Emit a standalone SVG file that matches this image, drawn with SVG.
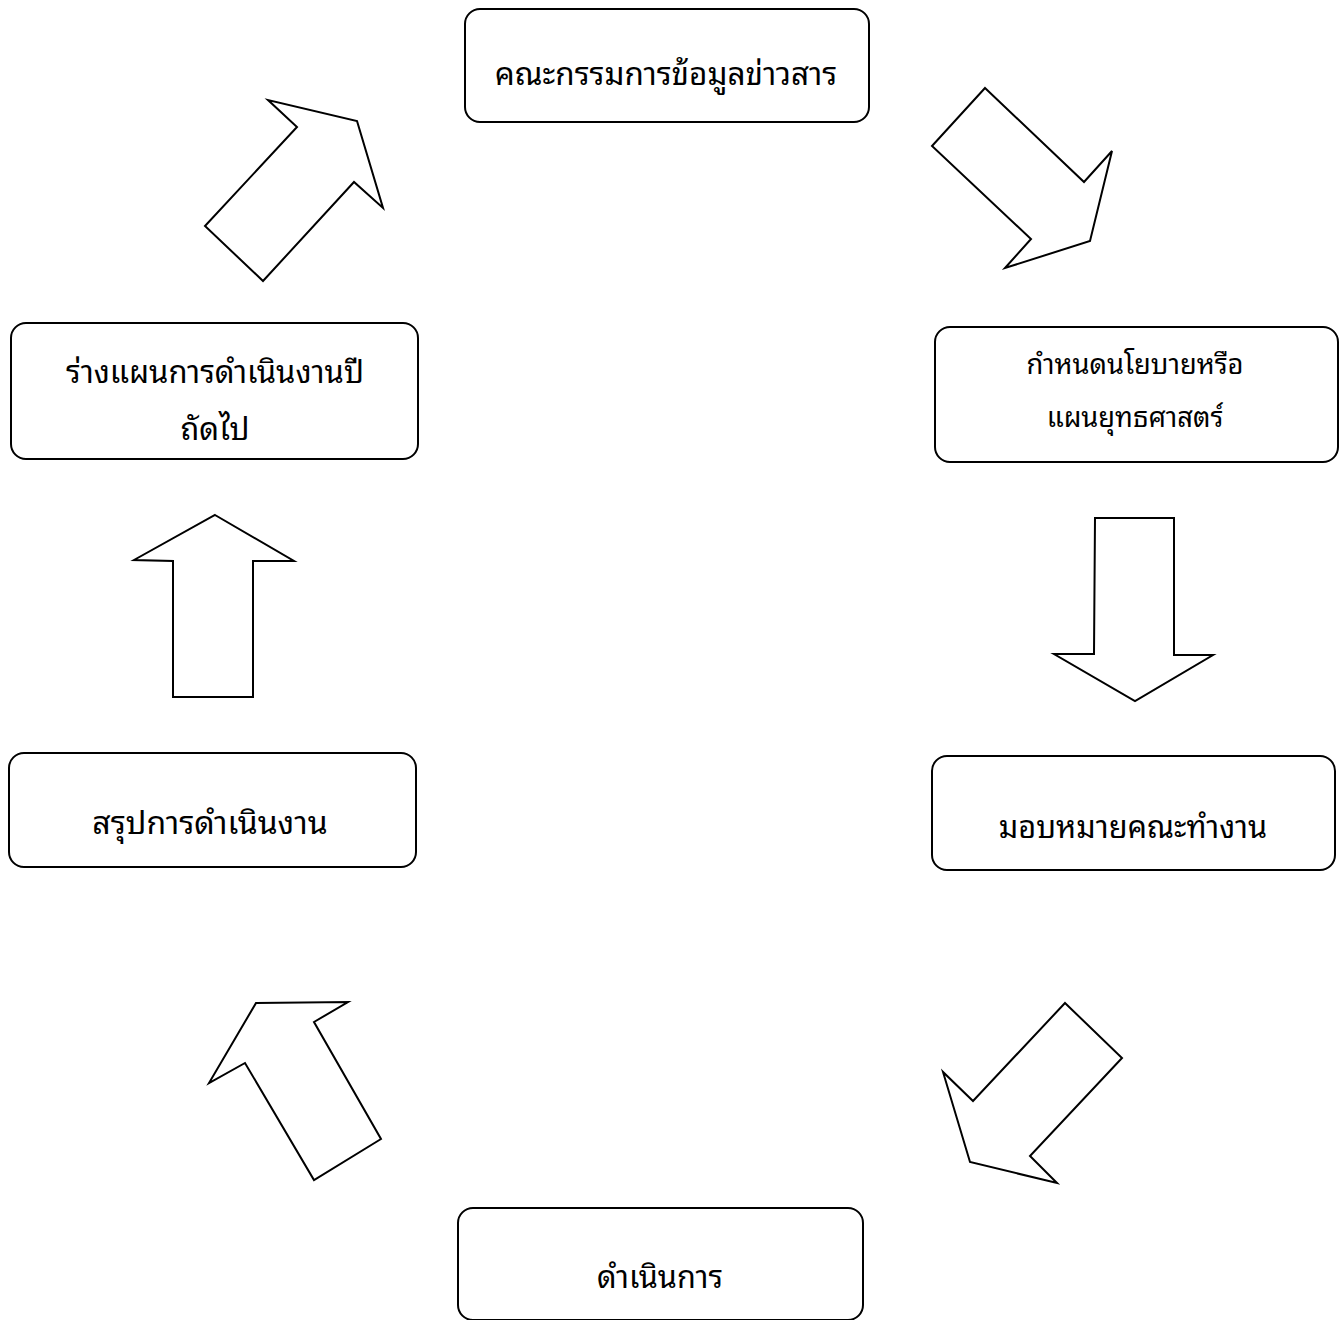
<svg xmlns="http://www.w3.org/2000/svg" width="1343" height="1320" viewBox="0 0 1343 1320">
<style>
.box{fill:#fff;stroke:#000;stroke-width:2}
.arr{fill:#fff;stroke:#000;stroke-width:2;stroke-linejoin:miter}
.t{font-family:"Noto Sans Thai Looped","Loma","Tahoma","Noto Sans Thai","Noto Sans","DejaVu Sans",sans-serif;fill:#000;text-anchor:middle}
.l{font-size:31.5px}
.m{font-size:30.7px}
.s{font-size:27.3px}
</style>
<rect width="1343" height="1320" fill="#fff"/>
<g id="connectors">
<polygon class="arr" points="357,121 383,208 354,182 263,281 205,226 297,127 268,100"/>
<polygon class="arr" points="985,88 1084,182 1112,151 1090,241 1005,268 1031,239 932,146"/>
<polygon class="arr" points="1095,518 1174,518 1174,655 1213,655 1135,701 1054,654 1094,654"/>
<polygon class="arr" points="1065,1003 1122,1058 1030,1156 1057,1183 970,1162 943,1072 973,1101"/>
<polygon class="arr" points="256,1003 348,1002 314,1022 381,1139 314,1180 245,1063 209,1083"/>
<polygon class="arr" points="215,515 294,561 253,561 253,697 173,697 173,561 134,560"/>
</g>
<g id="n1">
<rect class="box" x="465" y="9" width="404" height="113" rx="15"/>
<text class="t l" x="666" y="85">คณะกรรมการข้อมูลข่าวสาร</text>
</g>
<g id="n2">
<rect class="box" x="935" y="327" width="403" height="135" rx="15"/>
<text class="t s" x="1135" y="374">กำหนดนโยบายหรือ</text>
<text class="t s" x="1135" y="427">แผนยุทธศาสตร์</text>
</g>
<g id="n3">
<rect class="box" x="932" y="756" width="403" height="114" rx="15"/>
<text class="t m" x="1133" y="838">มอบหมายคณะทำงาน</text>
</g>
<g id="n4">
<rect class="box" x="458" y="1208" width="405" height="112" rx="15"/>
<text class="t m" x="660" y="1288">ดำเนินการ</text>
</g>
<g id="n5">
<rect class="box" x="9" y="753" width="407" height="114" rx="15"/>
<text class="t" style="font-size:32px" x="210" y="834">สรุปการดำเนินงาน</text>
</g>
<g id="n6">
<rect class="box" x="11" y="323" width="407" height="136" rx="15"/>
<text class="t" style="font-size:31px" x="215" y="383">ร่างแผนการดำเนินงานปี</text>
<text class="t" style="font-size:31px" x="215" y="440">ถัดไป</text>
</g>
</svg>
